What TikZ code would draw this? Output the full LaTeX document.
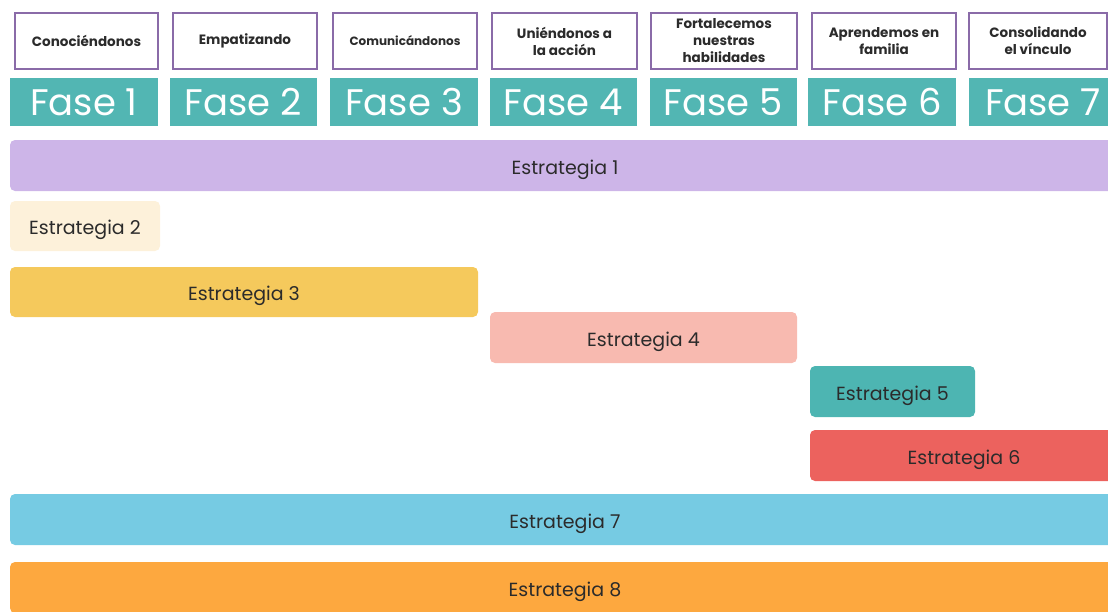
\documentclass[tikz,border=0pt]{standalone}
\usepackage{fontspec}
\setmainfont{Poppins}
\definecolor{hdrborder}{HTML}{8A6BA8}
\definecolor{teal}{HTML}{52B6B3}
\definecolor{txt}{HTML}{2B2B2B}
\definecolor{cA}{HTML}{CDB5E8}
\definecolor{cB}{HTML}{FDF1DA}
\definecolor{cC}{HTML}{F5C95C}
\definecolor{cD}{HTML}{F8BAB0}
\definecolor{cE}{HTML}{4DB5B2}
\definecolor{cF}{HTML}{EC625E}
\definecolor{cG}{HTML}{76CBE3}
\definecolor{cH}{HTML}{FDA83F}
\tikzset{
  hdr/.style={draw=hdrborder, line width=1.3pt, fill=white, minimum height=56pt, inner sep=2pt,
    align=center, text=txt, font=\fontsize{13.5}{17}\selectfont\bfseries},
  fase/.style={fill=teal, minimum height=48pt, inner sep=0pt, text=white,
    font=\fontsize{37}{40}\selectfont},
  bar/.style={rounded corners=5pt, minimum height=51pt, inner sep=0pt, text=txt,
    text height=17pt, text depth=0pt, font=\fontsize{19}{22}\selectfont},
}
\begin{document}
\begin{tikzpicture}[x=1pt,y=-1pt]
\useasboundingbox (0,0) rectangle (1108,611);
\clip (0,0) rectangle (1108,611);
% header boxes
\node[hdr, minimum width=143pt] (h1) at (86.5,41) {Conociéndonos};
\node[hdr, minimum width=144pt] (h2) at (245,41) {Empatizando};
\node[hdr, minimum width=144pt, font=\fontsize{12}{14}\selectfont\bfseries] (h3) at (405,41) {Comunicándonos};
\node[hdr, minimum width=145pt] (h4) at (564.5,41) {Uniéndonos a\\la acción};
\node[hdr, minimum width=146pt] (h5) at (724,41) {Fortalecemos\\nuestras\\habilidades};
\node[hdr, minimum width=144pt] (h6) at (884,41) {Aprendemos en\\familia};
\node[hdr, minimum width=138pt] (h7) at (1038,41) {Consolidando\\el vínculo};
% phase boxes
\node[fase, minimum width=148pt] (f1) at (84,102) {Fase 1};
\node[fase, minimum width=147pt] (f2) at (243.5,102) {Fase 2};
\node[fase, minimum width=148pt] (f3) at (404,102) {Fase 3};
\node[fase, minimum width=147pt] (f4) at (563.5,102) {Fase 4};
\node[fase, minimum width=147pt] (f5) at (723.5,102) {Fase 5};
\node[fase, minimum width=148pt] (f6) at (882,102) {Fase 6};
\node[fase, minimum width=148pt] (f7) at (1043,102) {Fase 7};
% strategy bars
\node[bar, fill=cA, minimum width=1110pt] (s1) at (565,165.5) {Estrategia 1};
\node[bar, fill=cB, minimum width=150pt, minimum height=50pt] (s2) at (85,226) {Estrategia 2};
\node[bar, fill=cC, minimum width=468pt, minimum height=50pt] (s3) at (244,292) {Estrategia 3};
\node[bar, fill=cD, minimum width=307pt] (s4) at (643.5,337.5) {Estrategia 4};
\node[bar, fill=cE, minimum width=165pt] (s5) at (892.5,391.5) {Estrategia 5};
\node[bar, fill=cF, minimum width=308pt] (s6) at (964,455.5) {Estrategia 6};
\node[bar, fill=cG, minimum width=1110pt] (s7) at (565,519.5) {Estrategia 7};
\node[bar, fill=cH, minimum width=1110pt] (s8) at (565,587.5) {Estrategia 8};
\end{tikzpicture}
\end{document}
